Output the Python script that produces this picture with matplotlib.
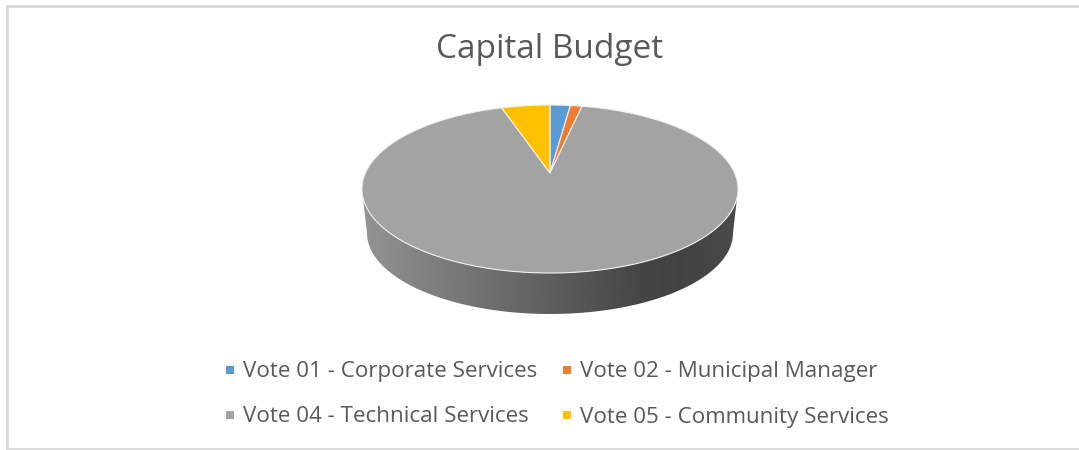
# Capital budget pie, drawn as a tilted disc with a shaded rim

import numpy as np
import matplotlib
matplotlib.use('Agg')
import matplotlib.pyplot as plt
from matplotlib.patches import Polygon, Rectangle

title = 'Capital Budget'
labels = ['Vote 01 - Corporate Services', 'Vote 02 - Municipal Manager',
          'Vote 04 - Technical Services', 'Vote 05 - Community Services']
values = [2.1, 1.2, 91.7, 5.0]
colors = ['#5B9BD5', '#ED7D31', '#A3A3A3', '#FFC000']

plt.rcParams['font.family'] = ['Open Sans', 'DejaVu Sans']

fig = plt.figure(figsize=(10.79, 4.5), dpi=100)
ax = fig.add_axes([0, 0, 1, 1])
ax.set_xlim(0, 1079)
ax.set_ylim(450, 0)
ax.axis('off')


# perspective: unit circle -> top of the disc, apex stays at (550, 173)
def project(theta):
    c = 0.1905
    u, v = np.sin(theta), np.cos(theta)
    d = 1 + c * v
    return 550 + 184.6 * u / d, 173 - 80.95 * v / d


# frame: left, top and bottom only
ax.plot([1079, 7, 7, 1079], [5.5, 5.5, 448.5, 448.5], color='#d9d9d9', lw=2,
        solid_joinstyle='miter')

# rim, clipped gradient
t = np.linspace(0, np.pi, 200)
top_x = 550 - 188 * np.cos(t)
top_y = 189 + 84 * np.sin(t)
low_x = 550 + 183 * np.cos(t)
low_y = 233 + 81 * np.sin(t)
rim = Polygon(np.column_stack([np.r_[top_x, low_x], np.r_[top_y, low_y]]),
              fc='none', ec='none')
ax.add_patch(rim)
grad = np.interp(np.linspace(0, 1, 400), [0, 0.25, 0.5, 0.75, 0.85, 1],
                 [0.58, 0.47, 0.37, 0.27, 0.26, 0.29])
img = ax.imshow(grad[None, :], cmap='gray', vmin=0, vmax=1, aspect='auto',
                extent=(362, 738, 320, 180), zorder=1)
img.set_clip_path(rim)
ax.set_xlim(0, 1079)
ax.set_ylim(450, 0)

# slices, clockwise from the top
edges = np.r_[0, np.cumsum(values)] / np.sum(values) * 2 * np.pi
for i in range(len(values)):
    th = np.linspace(edges[i], edges[i + 1], 300)
    x, y = project(th)
    pts = np.column_stack([np.r_[550, x], np.r_[173, y]])
    ax.add_patch(Polygon(pts, closed=True, fc=colors[i], ec='#f0f0f0', lw=0.8,
                         joinstyle='round', zorder=2))

ax.text(550, 58.5, title, ha='center', va='baseline', fontsize=24, color='#595959')

# legend laid out by hand, two rows
leg_x = [230, 567, 230, 567]
leg_y = [370, 370, 415, 415]
for i in range(len(labels)):
    ax.add_patch(Rectangle((leg_x[i] - 4, leg_y[i] - 4), 8, 8, fc=colors[i], ec='none'))
    ax.text(leg_x[i] + 13, leg_y[i] + 7.5, labels[i], ha='left', va='baseline',
            fontsize=16.1, color='#595959')

fig.savefig('out.png', dpi=100)
